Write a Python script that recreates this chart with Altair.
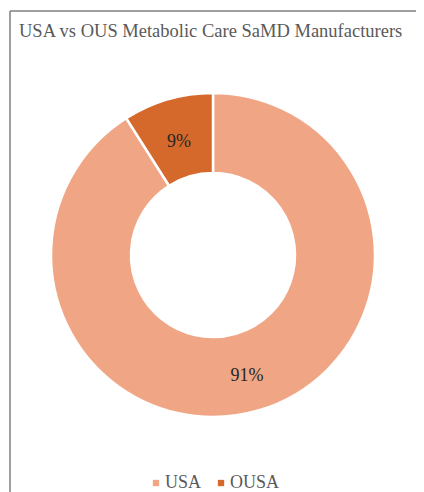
import altair as alt
import pandas as pd

regions = ["USA", "OUSA"]
shares = [91, 9]
labels = ["91%", "9%"]
colors = ["#F0A685", "#D5692B"]
title_text = "USA vs OUS Metabolic Care SaMD Manufacturers"

df = pd.DataFrame({"region": regions, "share": shares, "label": labels,
                   "order": list(range(len(regions)))})

SERIF = "'Liberation Serif', 'Times New Roman', serif"

base = alt.Chart(df).encode(
    theta=alt.Theta("share:Q", stack=True),
    order=alt.Order("order:Q"),
)

arcs = base.mark_arc(innerRadius=82, outerRadius=162, stroke="white", strokeWidth=2.5).encode(
    color=alt.Color(
        "region:N",
        sort=regions,
        scale=alt.Scale(domain=regions, range=colors),
        legend=alt.Legend(
            title=None, orient="none", direction="horizontal",
            legendX=136, legendY=426,
            symbolType="square", symbolSize=40, symbolStrokeWidth=0,
            labelFont=SERIF, labelFontSize=18, labelColor="#595959",
            labelOffset=0, columnPadding=10,
        ),
    )
)

text = base.mark_text(radius=122, font=SERIF, fontSize=18, color="#262626", dy=4).encode(
    text="label:N"
)

title = alt.Chart(alt.Data(values=[{}])).mark_text(
    align="left", baseline="alphabetic", font=SERIF, fontSize=18.5, color="#595959"
).encode(x=alt.value(8), y=alt.value(-11), text=alt.value(title_text))

border_left = alt.Chart(alt.Data(values=[{}])).mark_rule(color="#7F7F7F", strokeWidth=1.5).encode(
    x=alt.value(-1), y=alt.value(-37), y2=alt.value(450)
)
border_top = alt.Chart(alt.Data(values=[{}])).mark_rule(color="#7F7F7F", strokeWidth=1.5).encode(
    x=alt.value(-1), x2=alt.value(410), y=alt.value(-37)
)

chart = alt.layer(arcs, text, title, border_left, border_top).properties(
    width=404, height=414,
    padding={"left": 3, "top": 40, "right": 1, "bottom": 30},
    autosize=alt.AutoSizeParams(type="none"),
).configure_view(stroke=None)

chart.save("out.html", embed_options={"renderer": "svg", "actions": False})
